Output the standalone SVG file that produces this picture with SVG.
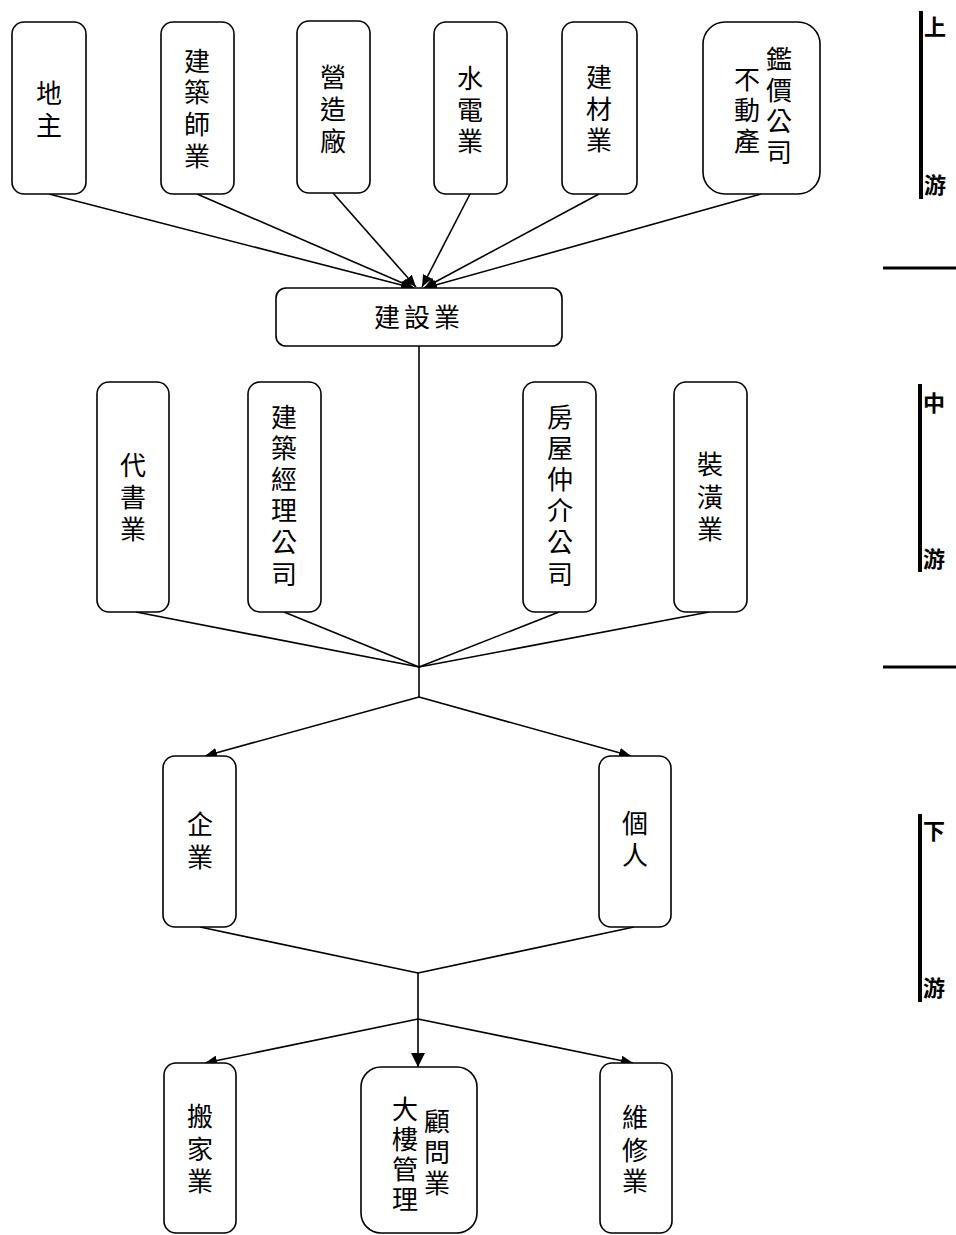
<svg xmlns="http://www.w3.org/2000/svg" width="956" height="1235" viewBox="0 0 956 1235">
<defs>
<marker id="arr" viewBox="0 0 12 10" refX="12" refY="5" markerWidth="12" markerHeight="10" markerUnits="userSpaceOnUse" orient="auto">
<path d="M0,0 L12,5 L0,10 z" fill="#000"/>
</marker>
<marker id="arrBig" viewBox="0 0 14 14" refX="14" refY="7" markerWidth="14" markerHeight="14" markerUnits="userSpaceOnUse" orient="auto">
<path d="M0,0 L14,7 L0,14 z" fill="#000"/>
</marker>
<style>
.box{fill:#fff;stroke:#000;stroke-width:1.6}
.t{font-family:"Liberation Sans","Noto Sans CJK TC",sans-serif;font-size:26px;text-anchor:middle;fill:#000}
.lbl{font-family:"Liberation Sans","Noto Sans CJK TC",sans-serif;font-size:22px;font-weight:700;fill:#000}
.c{stroke:#000;stroke-width:1.6;fill:none}
.bar{stroke:#000;stroke-width:4;fill:none}
.hl{stroke:#000;stroke-width:3;fill:none}
</style>
</defs>
<rect width="956" height="1235" fill="#fff"/>

<g id="connectors">
<line class="c" x1="49" y1="194" x2="413" y2="288" marker-end="url(#arr)"/>
<line class="c" x1="197" y1="194" x2="414" y2="288" marker-end="url(#arr)"/>
<line class="c" x1="333" y1="193" x2="416" y2="287" marker-end="url(#arr)"/>
<line class="c" x1="470" y1="194" x2="422" y2="287" marker-end="url(#arr)"/>
<line class="c" x1="599" y1="194" x2="424" y2="288" marker-end="url(#arr)"/>
<line class="c" x1="761" y1="194" x2="425" y2="288" marker-end="url(#arr)"/>
<line class="c" x1="419" y1="346" x2="419" y2="697"/>
<line class="c" x1="136" y1="612" x2="419" y2="667"/>
<line class="c" x1="284" y1="612" x2="419" y2="667"/>
<line class="c" x1="559" y1="612" x2="419" y2="667"/>
<line class="c" x1="709" y1="612" x2="419" y2="667"/>
<line class="c" x1="419" y1="697" x2="205" y2="756" marker-end="url(#arr)"/>
<line class="c" x1="419" y1="697" x2="631" y2="756" marker-end="url(#arr)"/>
<line class="c" x1="200" y1="927" x2="418" y2="973"/>
<line class="c" x1="634" y1="927" x2="418" y2="973"/>
<line class="c" x1="418" y1="973" x2="418" y2="1019"/>
<line class="c" x1="418" y1="1019" x2="205" y2="1063" marker-end="url(#arr)"/>
<line class="c" x1="418" y1="1019" x2="418" y2="1067" marker-end="url(#arrBig)"/>
<line class="c" x1="418" y1="1019" x2="633" y2="1063" marker-end="url(#arr)"/>
</g>

<g id="n-dizhu">
<rect class="box" x="12" y="22" width="74" height="172" rx="12"/>
<text class="t" x="49" y="103">地</text>
<text class="t" x="49" y="135">主</text>
</g>
<g id="n-jianzhushi">
<rect class="box" x="161" y="22" width="73" height="172" rx="12"/>
<text class="t" x="197" y="71">建</text>
<text class="t" x="197" y="102">築</text>
<text class="t" x="197" y="134">師</text>
<text class="t" x="197" y="166">業</text>
</g>
<g id="n-yingzao">
<rect class="box" x="297" y="21" width="73" height="172" rx="12"/>
<text class="t" x="333" y="87">營</text>
<text class="t" x="333" y="119">造</text>
<text class="t" x="333" y="151">廠</text>
</g>
<g id="n-shuidian">
<rect class="box" x="434" y="22" width="73" height="172" rx="12"/>
<text class="t" x="470" y="88">水</text>
<text class="t" x="470" y="120">電</text>
<text class="t" x="470" y="151">業</text>
</g>
<g id="n-jiancai">
<rect class="box" x="562" y="22" width="75" height="172" rx="12"/>
<text class="t" x="599" y="87">建</text>
<text class="t" x="599" y="119">材</text>
<text class="t" x="599" y="150">業</text>
</g>
<g id="n-budongchan">
<rect class="box" x="703" y="22" width="117" height="172" rx="22"/>
<text class="t" x="779" y="69">鑑</text>
<text class="t" x="779" y="100">價</text>
<text class="t" x="779" y="131">公</text>
<text class="t" x="779" y="162">司</text>
<text class="t" x="747" y="89">不</text>
<text class="t" x="747" y="120">動</text>
<text class="t" x="747" y="151">產</text>
</g>
<g id="n-jianshe">
<rect class="box" x="276" y="288" width="286" height="58" rx="10"/>
<text class="t" x="419" y="327" letter-spacing="4">建設業</text>
</g>
<g id="n-daishu">
<rect class="box" x="97" y="382" width="72" height="230" rx="12"/>
<text class="t" x="133" y="475">代</text>
<text class="t" x="133" y="507">書</text>
<text class="t" x="133" y="539">業</text>
</g>
<g id="n-jingli">
<rect class="box" x="248" y="382" width="73" height="230" rx="12"/>
<text class="t" x="284" y="427">建</text>
<text class="t" x="284" y="458">築</text>
<text class="t" x="284" y="489">經</text>
<text class="t" x="284" y="520">理</text>
<text class="t" x="284" y="552">公</text>
<text class="t" x="284" y="584">司</text>
</g>
<g id="n-zhongjie">
<rect class="box" x="523" y="382" width="73" height="230" rx="12"/>
<text class="t" x="560" y="427">房</text>
<text class="t" x="560" y="458">屋</text>
<text class="t" x="560" y="489">仲</text>
<text class="t" x="560" y="520">介</text>
<text class="t" x="560" y="552">公</text>
<text class="t" x="560" y="584">司</text>
</g>
<g id="n-zhuanghuang">
<rect class="box" x="674" y="382" width="73" height="230" rx="12"/>
<text class="t" x="710" y="474">裝</text>
<text class="t" x="710" y="507">潢</text>
<text class="t" x="710" y="539">業</text>
</g>
<g id="n-qiye">
<rect class="box" x="163" y="756" width="73" height="171" rx="12"/>
<text class="t" x="200" y="834">企</text>
<text class="t" x="200" y="867">業</text>
</g>
<g id="n-geren">
<rect class="box" x="599" y="756" width="72" height="171" rx="12"/>
<text class="t" x="635" y="833">個</text>
<text class="t" x="635" y="865">人</text>
</g>
<g id="n-banjia">
<rect class="box" x="164" y="1063" width="72" height="170" rx="12"/>
<text class="t" x="200" y="1126">搬</text>
<text class="t" x="200" y="1159">家</text>
<text class="t" x="200" y="1191">業</text>
</g>
<g id="n-dalou">
<rect class="box" x="361" y="1067" width="116" height="166" rx="20"/>
<text class="t" x="405" y="1119">大</text>
<text class="t" x="405" y="1149">樓</text>
<text class="t" x="405" y="1179">管</text>
<text class="t" x="405" y="1209">理</text>
<text class="t" x="437" y="1131">顧</text>
<text class="t" x="437" y="1162">問</text>
<text class="t" x="437" y="1193">業</text>
</g>
<g id="n-weixiu">
<rect class="box" x="600" y="1063" width="72" height="170" rx="12"/>
<text class="t" x="635" y="1127">維</text>
<text class="t" x="635" y="1160">修</text>
<text class="t" x="635" y="1191">業</text>
</g>

<g id="stage-labels">
<line class="bar" x1="921" y1="11" x2="921" y2="199"/>
<text class="lbl" x="924" y="35">上</text>
<text class="lbl" x="924" y="193">游</text>
<line class="hl" x1="883" y1="268" x2="956" y2="268"/>
<line class="bar" x1="920" y1="384" x2="920" y2="572"/>
<text class="lbl" x="923" y="411">中</text>
<text class="lbl" x="923" y="567">游</text>
<line class="hl" x1="883" y1="667" x2="956" y2="667"/>
<line class="bar" x1="920" y1="814" x2="920" y2="1002"/>
<text class="lbl" x="923" y="839">下</text>
<text class="lbl" x="923" y="996">游</text>
</g>
</svg>
